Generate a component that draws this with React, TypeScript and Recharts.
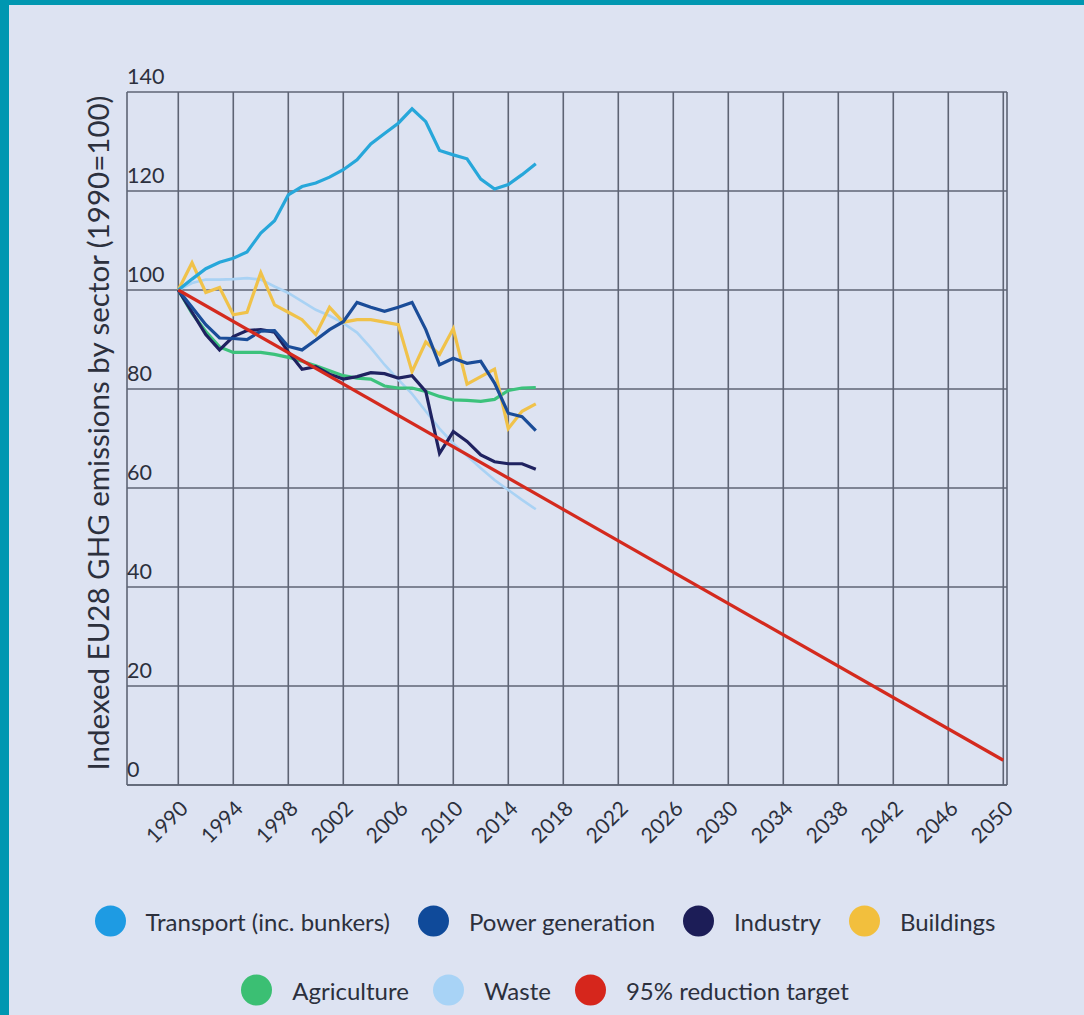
import React from 'react';
import { LineChart, Line, XAxis, YAxis, CartesianGrid } from 'recharts';

const years = [1990, 1991, 1992, 1993, 1994, 1995, 1996, 1997, 1998, 1999, 2000, 2001, 2002, 2003, 2004, 2005, 2006, 2007, 2008, 2009, 2010, 2011, 2012, 2013, 2014, 2015, 2016];
const transport = [100, 102.2, 104.3, 105.6, 106.4, 107.7, 111.5, 114, 119.2, 120.9, 121.6, 122.8, 124.3, 126.3, 129.5, 131.6, 133.7, 136.6, 134, 128.2, 127.3, 126.5, 122.4, 120.4, 121.3, 123.3, 125.5];
const power = [100, 96.5, 93, 90.3, 90.2, 90, 91.7, 91.8, 88.6, 87.9, 89.9, 92, 93.6, 97.5, 96.5, 95.7, 96.5, 97.5, 92, 84.9, 86.2, 85.2, 85.6, 81.2, 75.1, 74.4, 71.6];
const industry = [100, 95.5, 91, 87.9, 90.6, 91.8, 92, 91.5, 87.5, 84, 84.5, 83, 82, 82.5, 83.3, 83.1, 82.2, 82.7, 79.5, 67, 71.4, 69.4, 66.7, 65.3, 64.9, 64.9, 63.8];
const buildings = [100, 105.5, 99.5, 100.5, 95, 95.5, 103.5, 97, 95.5, 94, 91, 96.5, 93.5, 94, 94, 93.5, 93, 83.5, 89.5, 87, 92.2, 81, 82.5, 84, 72, 75.5, 77];
const agriculture = [100, 95.3, 91.6, 88.5, 87.4, 87.4, 87.4, 87, 86.4, 85.6, 84.7, 83.7, 82.7, 82.2, 82, 80.6, 80.2, 80.2, 79.5, 78.5, 77.8, 77.7, 77.5, 77.9, 79.7, 80.2, 80.3];
const waste = [100, 101.4, 102.1, 102.1, 102.2, 102.4, 102.1, 100.7, 99.4, 97.7, 96, 94.8, 93.3, 91.4, 88.3, 84.9, 81.9, 79, 75.5, 72, 69, 66.5, 64, 61.6, 59.6, 57.6, 55.7];
const targetYears = [1990, 2050];
const targetValues = [100, 5];

const xTicks = [1990, 1994, 1998, 2002, 2006, 2010, 2014, 2018, 2022, 2026, 2030, 2034, 2038, 2042, 2046, 2050];
const yTicks = [0, 20, 40, 60, 80, 100, 120, 140];

const yTitle = 'Indexed EU28 GHG emissions by sector (1990=100)';

const FONT = 'Lato, "Noto Sans", sans-serif';
const TEXT = '#2c303d';
const GRID = '#5e6474';
const BG = '#dde3f2';
const TEAL = '#0097b1';

type Series = { name: string; color: string; lineColor: string; years: number[]; values: number[]; width: number };

const series: Series[] = [
  { name: 'Transport (inc. bunkers)', color: '#1e9be3', lineColor: '#27a7da', years, values: transport, width: 3.2 },
  { name: 'Power generation', color: '#0f4a9a', lineColor: '#1a4c98', years, values: power, width: 3.2 },
  { name: 'Industry', color: '#1c1d57', lineColor: '#1f2260', years, values: industry, width: 3.2 },
  { name: 'Buildings', color: '#f2bf3d', lineColor: '#f0c24a', years, values: buildings, width: 3.2 },
  { name: 'Agriculture', color: '#3bbf73', lineColor: '#3cc27c', years, values: agriculture, width: 3.2 },
  { name: 'Waste', color: '#a8d3f6', lineColor: '#a9d2f4', years, values: waste, width: 2.6 },
  { name: '95% reduction target', color: '#d6261c', lineColor: '#d42a1e', years: targetYears, values: targetValues, width: 3.2 },
];

const drawOrder = ['Waste', 'Agriculture', 'Buildings', 'Industry', 'Power generation', 'Transport (inc. bunkers)', '95% reduction target'];
const legendRows = [
  ['Transport (inc. bunkers)', 'Power generation', 'Industry', 'Buildings'],
  ['Agriculture', 'Waste', '95% reduction target'],
];

const toData = (s: Series) => s.years.map((y, i) => ({ year: y, value: s.values[i] }));

const XTick = (props: any) => {
  const { x, y, payload } = props;
  return (
    <text
      transform={`translate(${x + 11}, ${y + 25}) rotate(-45)`}
      textAnchor="end"
      fontFamily={FONT}
      fontSize={21}
      fill={TEXT}
    >
      {payload.value}
    </text>
  );
};

const YTick = (props: any) => {
  const { y, payload } = props;
  return (
    <text x={127} y={y - 8} textAnchor="start" fontFamily={FONT} fontSize={21.5} fill={TEXT}>
      {payload.value}
    </text>
  );
};

export default function App() {
  const byName = (n: string) => series.find((s) => s.name === n)!;
  return (
    <div style={{ position: 'fixed', left: 0, top: 0, width: 1084, height: 1015, background: BG, overflow: 'hidden', fontFamily: FONT }}>
      <div style={{ position: 'absolute', left: 0, top: 0 }}>
        <LineChart width={1084} height={1015} margin={{ top: 92, right: 77, bottom: 170, left: 67 }}>
          <CartesianGrid stroke={GRID} strokeWidth={1.6} />
          <XAxis
            dataKey="year"
            type="number"
            domain={[1986.27, 2050.27]}
            ticks={xTicks}
            interval={0}
            allowDataOverflow
            height={60}
            tickSize={0}
            tickMargin={0}
            tickLine={false}
            axisLine={{ stroke: GRID, strokeWidth: 1.6 }}
            tick={<XTick />}
          />
          <YAxis
            type="number"
            domain={[0, 140]}
            ticks={yTicks}
            interval={0}
            width={60}
            axisLine={false}
            tickLine={false}
            tick={<YTick />}
          />
          {drawOrder.map((n) => {
            const s = byName(n);
            return (
              <Line
                key={n}
                data={toData(s)}
                dataKey="value"
                name={s.name}
                type="linear"
                stroke={s.lineColor}
                strokeWidth={s.width}
                dot={false}
                activeDot={false}
                isAnimationActive={false}
              />
            );
          })}
        </LineChart>
      </div>
      <div
        style={{
          position: 'absolute',
          left: 97,
          top: 433,
          transform: 'translate(-50%, -50%) rotate(-90deg)',
          whiteSpace: 'nowrap',
          fontSize: 29.5,
          color: TEXT,
        }}
      >
        {yTitle}
      </div>
      {legendRows.map((row, ri) => (
        <div
          key={ri}
          style={{
            position: 'absolute',
            left: 0,
            width: 1090,
            top: ri === 0 ? 921 : 990,
            transform: 'translateY(-50%)',
            display: 'flex',
            justifyContent: 'center',
            alignItems: 'center',
            gap: ri === 0 ? 28 : 24,
          }}
        >
          {row.map((n) => {
            const s = byName(n);
            return (
              <div key={n} style={{ display: 'flex', alignItems: 'center' }}>
                <div style={{ width: 31, height: 31, borderRadius: '50%', background: s.color, marginRight: 20 }} />
                <span style={{ fontSize: 24, color: TEXT }}>{s.name}</span>
              </div>
            );
          })}
        </div>
      ))}
      <div style={{ position: 'absolute', left: 0, top: 0, width: 1084, height: 5, background: TEAL }} />
      <div style={{ position: 'absolute', left: 0, top: 0, width: 9, height: 1015, background: TEAL }} />
    </div>
  );
}
